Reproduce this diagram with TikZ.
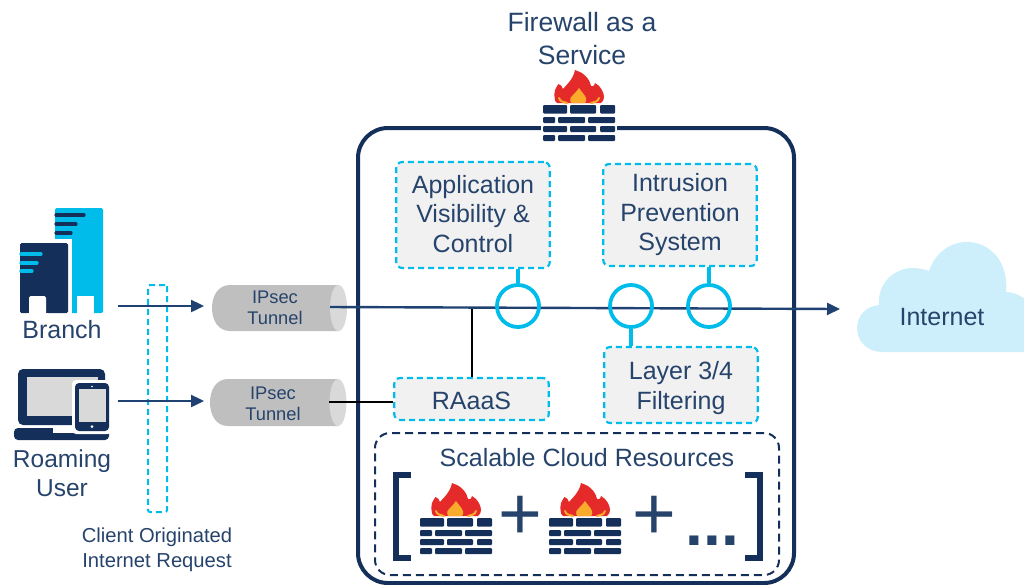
\documentclass[tikz,border=0pt]{standalone}
\usepackage{fontspec}
\setmainfont{Liberation Sans}
\usetikzlibrary{arrows.meta}
\definecolor{navy}{HTML}{14305A}
\definecolor{txt}{HTML}{26436B}
\definecolor{lineblue}{HTML}{1F4272}
\definecolor{cyanb}{HTML}{00BCEB}
\definecolor{fillg}{HTML}{F1F1F1}
\definecolor{iconfill}{HTML}{D9D9D9}
\definecolor{cloudc}{HTML}{CDEFFB}
\definecolor{flamer}{HTML}{E52A2A}
\definecolor{flameo}{HTML}{FBAB2C}
\tikzset{
 x=1pt,y=-1pt,
 lab/.style={text=txt,align=center,font=\fontsize{25}{29.5}\selectfont,inner sep=0pt},
 cyanbox/.style={draw=cyanb,fill=fillg,line width=2.2pt,dash pattern=on 6pt off 4pt,rounded corners=6pt,inner sep=0pt},
 ring/.style={circle,draw=cyanb,line width=3.8pt,minimum size=42pt,inner sep=0pt},
 ringlink/.style={draw=cyanb,line width=3.2pt},
 flow/.style={draw=lineblue,line width=2.4pt,-{Triangle[length=13pt,width=12pt]}},
 blk/.style={draw=black,line width=2pt},
 brick/.style={fill=navy,rounded corners=1pt},
 small/.style={text=txt,align=center,font=\fontsize{18.3}{21}\selectfont,inner sep=0pt},
 side/.style={text=txt,align=center,font=\fontsize{20.2}{24.5}\selectfont,inner sep=0pt},
 firewall/.pic={
  \fill[white] (-2,-2) rectangle (74,38);
  \fill[brick] (0,0) rectangle (24,8.5);
  \fill[brick] (27,0) rectangle (53,8.5);
  \fill[brick] (57,0) rectangle (72,8.5);
  \fill[brick] (0,12) rectangle (12,18);
  \fill[brick] (15,12) rectangle (42,18);
  \fill[brick] (45,12) rectangle (72,18);
  \fill[brick] (0,21) rectangle (24,27);
  \fill[brick] (27,21) rectangle (53,27);
  \fill[brick] (57,21) rectangle (72,27);
  \fill[brick] (0,30) rectangle (12,36);
  \fill[brick] (15,30) rectangle (42,36);
  \fill[brick] (45,30) rectangle (72,36);
  \fill[flamer] (14,-2) .. controls (11,-3) and (11,-11) .. (12,-15) .. controls (13,-18) and (15,-20) .. (15.5,-21)
   .. controls (18,-20) and (19,-19) .. (20,-16) .. controls (23,-20) and (30,-25) .. (32,-35)
   .. controls (39,-33) and (46,-28) .. (48,-19) .. controls (50,-18) and (51,-19) .. (52,-22)
   .. controls (58,-19) and (61,-12) .. (61,-8) .. controls (61,-6) and (60,-3) .. (58,-2) -- cycle;
  \draw[flameo,line width=2pt,line cap=round] (16,-7) .. controls (17,-3) and (21,-3) .. (24,-2);
  \draw[flameo,line width=2pt,line cap=round] (56,-7) .. controls (55,-3) and (51,-3) .. (48,-2);
  \fill[flameo] (28,-2) .. controls (26,-6) and (28,-9) .. (30,-10) .. controls (32,-12) and (34,-14) .. (36,-17)
   .. controls (38,-14) and (42,-10) .. (43,-7) .. controls (44,-5) and (43,-3) .. (42,-2) -- cycle;
 }
}
\begin{document}
\begin{tikzpicture}
\useasboundingbox (0,0) rectangle (1024,584);
\begin{scope}
\clip (0,0) rectangle (1024,584);
% main container
\node[draw=navy,line width=4pt,rounded corners=30pt,minimum width=436pt,minimum height=455pt,inner sep=0pt] (main) at (576,355.5) {};
% cloud
\fill[cloudc] (882,352) .. controls (867,352) and (857,341) .. (857,328) .. controls (857,315) and (867,306) .. (879,305)
 .. controls (877,283) and (895,268) .. (912,268) .. controls (918,268) and (924,269) .. (929,271)
 .. controls (935,253) and (950,242) .. (967,242) .. controls (990,242) and (1009,262) .. (1006,292)
 .. controls (1013,292) and (1020,295) .. (1026,300) -- (1026,352) -- cycle;
\end{scope}
% titles
\node[lab,font=\fontsize{26.5}{33}\selectfont] (t1) at (582,22) {Firewall as a};
\node[lab,font=\fontsize{26.5}{33}\selectfont] (t2) at (582,55) {Service};
\pic at (543,105) {firewall};
\node[lab] (inet) at (942,317) {Internet};
% cyan thin box
\node[draw=cyanb,line width=2pt,dash pattern=on 6pt off 4pt,rounded corners=2pt,minimum width=19pt,minimum height=227pt,inner sep=0pt] (cli) at (157.5,398.5) {};
\node[side] (clit) at (157,550) {Client Originated\\Internet Request};
% branch
\fill[cyanb,rounded corners=1.5pt] (55,208) rectangle (103,313);
\fill[white] (50,239) rectangle (72,316);
\fill[white] (77,296) rectangle (94,314);
\draw[navy,line width=3.2pt,line cap=round] (56,215) -- (84,215) (56,224) -- (76,224) (56,233) -- (71,233);
\fill[navy,rounded corners=1.5pt] (20,243) rectangle (68,313);
\fill[white,rounded corners=1.5pt] (29,296) rectangle (46,316);
\fill[white] (27,313) rectangle (48,316);
\draw[cyanb,line width=3.2pt,line cap=round] (21,254) -- (41,254) (21,263) -- (37,263) (21,271) -- (32,271);
\node[lab] (branch) at (62,330) {Branch};
% laptop
\fill[navy,rounded corners=5pt] (18,369) rectangle (105,425);
\fill[iconfill] (27,377) rectangle (98,416);
\fill[navy,rounded corners=4pt] (14,428) rectangle (109,440);
\fill[white] (53,428) rectangle (75,433);
\fill[white,rounded corners=4pt] (72,380) rectangle (112,434);
\fill[navy,rounded corners=4pt] (75,383) rectangle (109,431);
\fill[iconfill] (79,389) rectangle (106,422);
\fill[white] (92,426.5) circle (1.5) (92,386.5) circle (0.8);
\node[lab,font=\fontsize{24.5}{28.5}\selectfont] (roam) at (62,473) {Roaming\\User};
% arrows
\coordinate (a1s) at (118,306); \coordinate (a1e) at (204,306);
\coordinate (a2s) at (118,401); \coordinate (a2e) at (204,401);
\draw[flow] (a1s) -- (a1e);
\draw[flow] (a2s) -- (a2e);
% tunnels
\fill[black!25] (230,285) -- (338.5,285) -- (338.5,331) -- (230,331) .. controls (218,331) and (212,320) .. (212,308) .. controls (212,296) and (218,285) .. (230,285) -- cycle;
\fill[black!15] (338.5,308) ellipse [x radius=8.5,y radius=23];
\fill[black!25] (228,379) -- (338,379) -- (338,426) -- (228,426) .. controls (216,426) and (210,415) .. (210,402.5) .. controls (210,390) and (216,379) .. (228,379) -- cycle;
\fill[black!15] (338,402.5) ellipse [x radius=8.5,y radius=23.5];
\node[small] (tun1) at (275,307.5) {IPsec\\Tunnel};
\node[small] (tun2) at (273,403.5) {IPsec\\Tunnel};
\coordinate (l1s) at (330,307); \coordinate (l1e) at (840,309);
\coordinate (l2s) at (329,402);
\coordinate (j) at (472,307.5);
% boxes
\node[cyanbox,minimum width=153.5pt,minimum height=106pt] (app) at (473,215) {};
\node[lab] (appt) at (473,214) {Application\\Visibility \&\\Control};
\node[cyanbox,minimum width=153.5pt,minimum height=102pt] (ips) at (680,215) {};
\node[lab] (ipst) at (680,215) {Intrusion\\Prevention\\System};
\node[cyanbox,minimum width=153.5pt,minimum height=76pt] (lay) at (681,385) {};
\node[lab,font=\fontsize{25}{30}\selectfont] (layt) at (681,388) {Layer 3/4\\Filtering};
\node[cyanbox,minimum width=154.5pt,minimum height=42pt] (raas) at (471.5,399) {};
\node[lab] (raast) at (471.5,401) {RAaaS};
\node[draw=navy,line width=2pt,dash pattern=on 8pt off 5pt,rounded corners=15pt,minimum width=404pt,minimum height=142pt,inner sep=0pt] (scal) at (577,504) {};
% flow lines
\draw[blk] (j) -- (j |- raas.north);
\draw[blk] (l2s) -- (raas.west |- l2s);
\draw[flow] (l1s) -- (l1e);
% rings
\node[ring] (r1) at (518,306) {};
\node[ring] (r2) at (631,306) {};
\node[ring] (r3) at (709,306) {};
\draw[ringlink] (r1.north) -- (r1.north |- app.south);
\draw[ringlink] (r3.north) -- (r3.north |- ips.south);
\draw[ringlink] (r2.south) -- (r2.south |- lay.north);
% scalable
\node[lab] (scalt) at (587,457.5) {Scalable Cloud Resources};
\draw[navy,line width=6pt] (411,475) -- (396,475) -- (396,558) -- (411,558);
\draw[navy,line width=6pt] (745,475) -- (760,475) -- (760,558) -- (745,558);
\pic at (420,518) {firewall};
\pic at (549,518) {firewall};
\node[lab,font=\fontsize{75}{75}\selectfont,anchor=base] (p1) at (520.5,539) {+};
\node[lab,font=\fontsize{75}{75}\selectfont,anchor=base] (p2) at (654.5,539) {+};
\node[lab,font=\fontsize{64}{64}\selectfont\bfseries,anchor=base] (dots) at (712.5,545) {...};
\end{tikzpicture}
\end{document}
